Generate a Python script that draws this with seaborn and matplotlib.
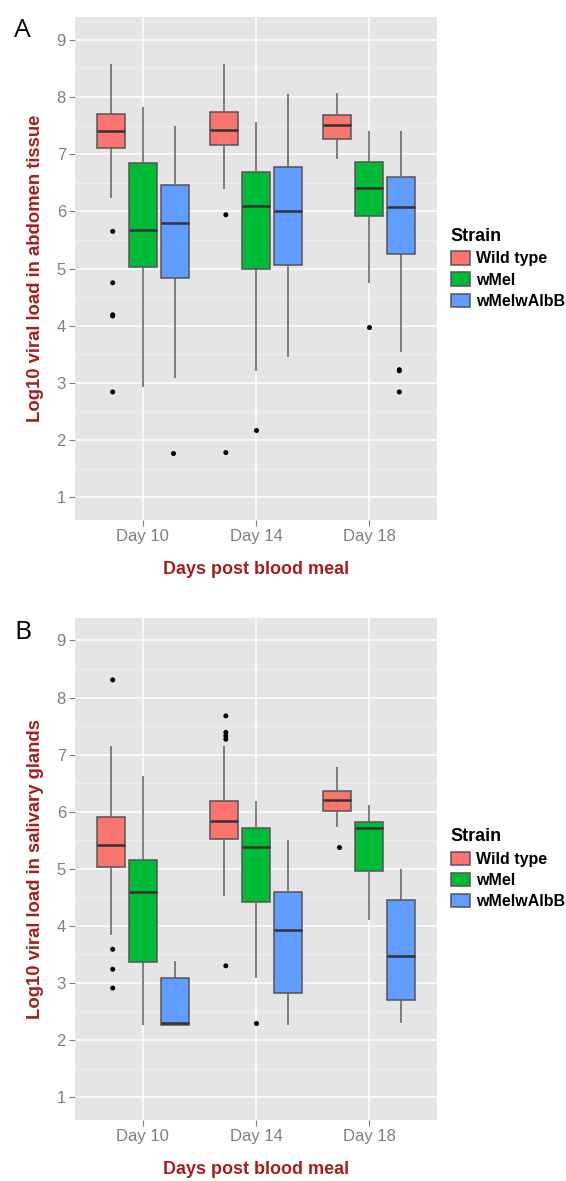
import numpy as np
import pandas as pd
import matplotlib
matplotlib.use("Agg")
import matplotlib.pyplot as plt
import seaborn as sns

# --- Data ---

days = ["Day 10", "Day 14", "Day 18"]
strains = ["Wild type", "wMel", "wMelwAlbB"]
palette = ["#F8766D", "#00BA38", "#619CFF"]

# boxes in order: Day10 (WT, wMel, wMelwAlbB), Day14 (...), Day18 (...)
box_days = ["Day 10"] * 3 + ["Day 14"] * 3 + ["Day 18"] * 3
box_strains = strains * 3

# Panel A: abdomen tissue
abd_lo = [6.23, 2.93, 3.08, 6.39, 3.20, 3.45, 6.91, 4.75, 3.54]
abd_q1 = [7.11, 5.02, 4.84, 7.16, 4.99, 5.06, 7.26, 5.92, 5.26]
abd_med = [7.41, 5.67, 5.79, 7.43, 6.10, 6.00, 7.51, 6.41, 6.08]
abd_q3 = [7.71, 6.85, 6.46, 7.74, 6.69, 6.78, 7.68, 6.86, 6.60]
abd_hi = [8.58, 7.83, 7.49, 8.58, 7.56, 8.06, 8.07, 7.40, 7.41]

abd_out_day = ["Day 10"] * 6 + ["Day 14"] * 3 + ["Day 18"] * 4
abd_out_strain = (["Wild type"] * 5 + ["wMelwAlbB"]
                  + ["Wild type", "Wild type", "wMel"]
                  + ["wMel", "wMelwAlbB", "wMelwAlbB", "wMelwAlbB"])
abd_out_val = [5.65, 4.75, 4.17, 4.19, 2.84, 1.78,
               5.94, 1.78, 2.17,
               3.97, 3.21, 3.23, 2.84]

# Panel B: salivary glands
sal_lo = [3.84, 2.27, 2.27, 4.52, 3.08, 2.27, 5.73, 4.10, 2.29]
sal_q1 = [5.03, 3.37, 2.27, 5.52, 4.41, 2.82, 6.01, 4.97, 2.71]
sal_med = [5.41, 4.59, 2.29, 5.84, 5.39, 3.92, 6.20, 5.71, 3.48]
sal_q3 = [5.91, 5.15, 3.08, 6.19, 5.71, 4.60, 6.37, 5.82, 4.46]
sal_hi = [7.16, 6.63, 3.39, 7.16, 6.19, 5.51, 6.78, 6.11, 4.99]

sal_out_day = ["Day 10"] * 4 + ["Day 14"] * 6 + ["Day 18"]
sal_out_strain = (["Wild type"] * 4
                  + ["Wild type"] * 5 + ["wMel"]
                  + ["Wild type"])
sal_out_val = [8.31, 3.59, 3.24, 2.91,
               7.68, 7.39, 7.33, 7.27, 3.30, 2.29,
               5.38]


def box_frame(lo, q1, med, q3, hi):
    rows = []
    for d, s, *vals in zip(box_days, box_strains, lo, q1, med, q3, hi):
        for v in vals:
            rows.append({"Day": d, "Strain": s, "value": v})
    return pd.DataFrame(rows)


abd_boxes = box_frame(abd_lo, abd_q1, abd_med, abd_q3, abd_hi)
abd_out = pd.DataFrame({"Day": abd_out_day, "Strain": abd_out_strain, "value": abd_out_val})
sal_boxes = box_frame(sal_lo, sal_q1, sal_med, sal_q3, sal_hi)
sal_out = pd.DataFrame({"Day": sal_out_day, "Strain": sal_out_strain, "value": sal_out_val})

# --- Style ---

plt.rcParams["font.family"] = ["Liberation Sans", "DejaVu Sans"]
label_red = "#A3201F"
tick_grey = "#7F7F7F"

fig = plt.figure(figsize=(5.66, 11.81), dpi=100)
ax_a = fig.add_axes([0.1325, 0.5597, 0.6396, 0.4259])
ax_b = fig.add_axes([0.1325, 0.0517, 0.6396, 0.4253])


def draw_panel(ax, boxes, outliers, ylabel):
    ax.set_facecolor("#E5E5E5")
    ax.set_axisbelow(True)
    sns.boxplot(
        data=boxes, x="Day", y="value", hue="Strain",
        order=days, hue_order=strains, palette=palette,
        width=0.85, gap=0.118, whis=(0, 100), showfliers=False,
        saturation=1, linewidth=1.1, linecolor="#555555",
        medianprops={"color": "#333333", "linewidth": 1.8},
        whiskerprops={"color": "#6B6B6B", "linewidth": 1.2},
        capprops={"linewidth": 0},
        ax=ax,
    )
    sns.stripplot(
        data=outliers, x="Day", y="value", hue="Strain",
        order=days, hue_order=strains, palette={s: "black" for s in strains},
        dodge=True, jitter=False, size=3.6, linewidth=0, legend=False, ax=ax,
    )
    ax.set_xlim(-0.6, 2.6)
    ax.set_ylim(0.6, 9.4)
    ax.set_yticks(range(1, 10))
    ax.set_yticks(np.arange(1.5, 9.0, 1.0), minor=True)
    ax.grid(True, which="major", color="white", linewidth=1.1)
    ax.grid(True, which="minor", axis="y", color="#F2F2F2", linewidth=0.6)
    for sp in ax.spines.values():
        sp.set_visible(False)
    ax.tick_params(axis="both", which="major", length=4, width=0.8, color=tick_grey,
                   labelcolor=tick_grey, labelsize=12, pad=2.5)
    ax.tick_params(axis="y", which="minor", length=0)
    ax.set_xlabel("Days post blood meal", fontsize=13, fontweight="bold", color=label_red, labelpad=12)
    ax.set_ylabel(ylabel, fontsize=13.3, fontweight="bold", color=label_red, labelpad=9)

    leg = ax.legend(title="Strain", loc="center left", bbox_to_anchor=(1.02, 0.5),
                    frameon=False, fontsize=11.5, title_fontsize=13,
                    handlelength=1.2, handleheight=0.9, handletextpad=0.4,
                    labelspacing=0.38, borderaxespad=0)
    leg._legend_box.align = "left"
    leg.get_title().set_fontweight("bold")
    for t in leg.get_texts():
        t.set_fontweight("bold")


draw_panel(ax_a, abd_boxes, abd_out, "Log10 viral load in abdomen tissue")
draw_panel(ax_b, sal_boxes, sal_out, "Log10 viral load in salivary glands")

fig.text(0.025, 0.985, "A", fontsize=19, va="top", ha="left", family=["Open Sans", "DejaVu Sans"])
fig.text(0.025, 0.475, "B", fontsize=19, va="top", ha="left", family=["Open Sans", "DejaVu Sans"])

fig.savefig("out.png", dpi=100)
print("Saved: out.png")
